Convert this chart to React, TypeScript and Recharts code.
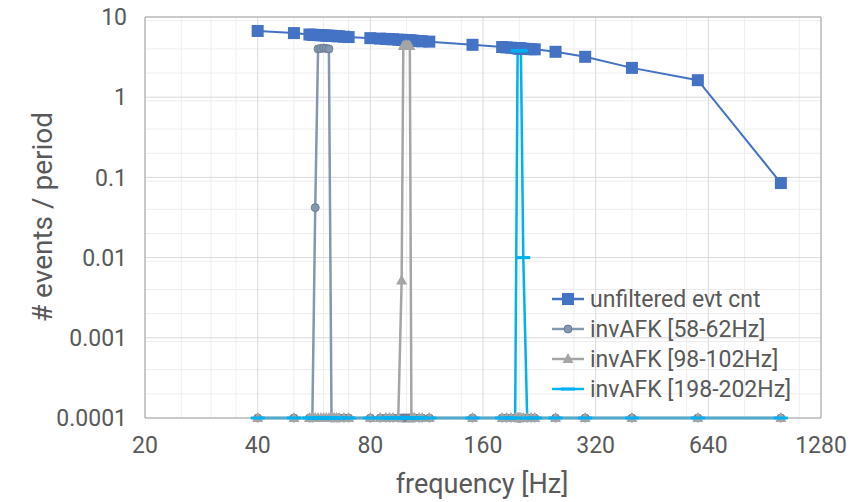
import {
  LineChart,
  Line,
  XAxis,
  YAxis,
  CartesianGrid,
  ReferenceLine,
  Label,
} from 'recharts'

// measured frequencies (Hz)
const freqHz = [
  40, 50, 55, 56, 57, 58, 59, 60, 61, 62,
  63, 64, 65, 66, 68, 70, 80, 85, 88, 90,
  92, 95, 97, 98, 99, 100, 101, 102, 103, 104,
  105, 108, 110, 115, 150, 180, 185, 190, 195, 198,
  199, 200, 201, 202, 205, 210, 215, 220, 250, 300,
  400, 600, 1000,
]

const unfilteredEvtCnt = [
  6.7, 6.3, 6.05, 6.0, 5.98, 5.95, 5.92, 5.9, 5.87, 5.85,
  5.82, 5.8, 5.77, 5.74, 5.68, 5.62, 5.45, 5.38, 5.33, 5.3,
  5.27, 5.22, 5.19, 5.17, 5.15, 5.13, 5.12, 5.1, 5.08, 5.06,
  5.04, 5.0, 4.98, 4.93, 4.5, 4.22, 4.18, 4.14, 4.1, 4.08,
  4.07, 4.06, 4.05, 4.04, 4.02, 4.0, 3.97, 3.95, 3.68, 3.19,
  2.32, 1.63, 0.085,
]

const invAfk58 = [
  0.0001, 0.0001, 0.0001, 0.0001, 0.042, 4.0, 4.05, 4.1, 4.05, 4.0,
  0.0001, 0.0001, 0.0001, 0.0001, 0.0001, 0.0001, 0.0001, 0.0001, 0.0001, 0.0001,
  0.0001, 0.0001, 0.0001, 0.0001, 0.0001, 0.0001, 0.0001, 0.0001, 0.0001, 0.0001,
  0.0001, 0.0001, 0.0001, 0.0001, 0.0001, 0.0001, 0.0001, 0.0001, 0.0001, 0.0001,
  0.0001, 0.0001, 0.0001, 0.0001, 0.0001, 0.0001, 0.0001, 0.0001, 0.0001, 0.0001,
  0.0001, 0.0001, 0.0001,
]

const invAfk98 = [
  0.0001, 0.0001, 0.0001, 0.0001, 0.0001, 0.0001, 0.0001, 0.0001, 0.0001, 0.0001,
  0.0001, 0.0001, 0.0001, 0.0001, 0.0001, 0.0001, 0.0001, 0.0001, 0.0001, 0.0001,
  0.0001, 0.0001, 0.0052, 4.35, 4.4, 4.45, 4.4, 4.35, 0.0001, 0.0001,
  0.0001, 0.0001, 0.0001, 0.0001, 0.0001, 0.0001, 0.0001, 0.0001, 0.0001, 0.0001,
  0.0001, 0.0001, 0.0001, 0.0001, 0.0001, 0.0001, 0.0001, 0.0001, 0.0001, 0.0001,
  0.0001, 0.0001, 0.0001,
]

const invAfk198 = [
  0.0001, 0.0001, 0.0001, 0.0001, 0.0001, 0.0001, 0.0001, 0.0001, 0.0001, 0.0001,
  0.0001, 0.0001, 0.0001, 0.0001, 0.0001, 0.0001, 0.0001, 0.0001, 0.0001, 0.0001,
  0.0001, 0.0001, 0.0001, 0.0001, 0.0001, 0.0001, 0.0001, 0.0001, 0.0001, 0.0001,
  0.0001, 0.0001, 0.0001, 0.0001, 0.0001, 0.0001, 0.0001, 0.0001, 0.0001, 3.8,
  3.8, 3.8, 3.8, 3.8, 0.01, 0.0001, 0.0001, 0.0001, 0.0001, 0.0001,
  0.0001, 0.0001, 0.0001,
]

const xTicks = [20, 40, 80, 160, 320, 640, 1280]
const yTicks = [0.0001, 0.001, 0.01, 0.1, 1, 10]
const xMinor = [25, 30, 35, 50, 60, 70, 100, 120, 140, 200, 240, 280, 400, 480, 560, 800, 960, 1120]
const yMinor = [
  0.0002, 0.0003, 0.0004, 0.0005, 0.0006, 0.0007, 0.0008, 0.0009,
  0.002, 0.003, 0.004, 0.005, 0.006, 0.007, 0.008, 0.009,
  0.02, 0.03, 0.04, 0.05, 0.06, 0.07, 0.08, 0.09,
  0.2, 0.3, 0.4, 0.5, 0.6, 0.7, 0.8, 0.9,
  2, 3, 4, 5, 6, 7, 8, 9,
]

const data = freqHz.map((f, i) => ({
  f,
  unf: unfilteredEvtCnt[i],
  a58: invAfk58[i],
  a98: invAfk98[i],
  a198: invAfk198[i],
}))

const FONT = 'Roboto, "Liberation Sans", sans-serif'
const TEXT = '#595959'

const squareDot = (p: any) => (
  <rect key={p.index} x={p.cx - 6} y={p.cy - 6} width={12} height={12} fill="#4472C4" />
)
const circleDot = (p: any) => (
  <circle key={p.index} cx={p.cx} cy={p.cy} r={4} fill="#8497B0" stroke="#6B7D94" strokeWidth={1} />
)
const triangleDot = (p: any) => (
  <polygon
    key={p.index}
    points={`${p.cx},${p.cy - 6} ${p.cx + 5.5},${p.cy + 4} ${p.cx - 5.5},${p.cy + 4}`}
    fill="#A5A5A5"
  />
)
const dashDot = (p: any) => (
  <rect key={p.index} x={p.cx - 7} y={p.cy - 1.5} width={14} height={3} fill="#00B0F0" />
)

const legendItems = [
  { name: 'unfiltered evt cnt', color: '#4472C4', marker: 'square' },
  { name: 'invAFK [58-62Hz]', color: '#8497B0', marker: 'circle' },
  { name: 'invAFK [98-102Hz]', color: '#A5A5A5', marker: 'triangle' },
  { name: 'invAFK [198-202Hz]', color: '#00B0F0', marker: 'dash' },
]

function LegendBox() {
  return (
    <div
      style={{
        position: 'absolute',
        left: 552,
        top: 284,
        fontFamily: FONT,
        fontSize: 23,
        color: TEXT,
        whiteSpace: 'nowrap',
      }}
    >
      {legendItems.map(item => (
        <div key={item.name} style={{ display: 'flex', alignItems: 'center', height: 30 }}>
          <svg width={32} height={20} style={{ marginRight: 6 }}>
            <line x1={0} y1={10} x2={32} y2={10} stroke={item.color} strokeWidth={2.5} />
            {item.marker === 'square' && <rect x={10} y={4} width={12} height={12} fill={item.color} />}
            {item.marker === 'circle' && <circle cx={16} cy={10} r={4} fill={item.color} stroke="#6B7D94" />}
            {item.marker === 'triangle' && <polygon points="16,4 21.5,14 10.5,14" fill={item.color} />}
            {item.marker === 'dash' && <rect x={9} y={8.5} width={14} height={3} fill={item.color} />}
          </svg>
          <span>{item.name}</span>
        </div>
      ))}
    </div>
  )
}

export default function App() {
  return (
    <div style={{ position: 'absolute', left: 0, top: 0, width: 858, height: 502 }}>
      <LineChart width={858} height={502} data={data} margin={{ top: 17, right: 37, left: 0, bottom: 0 }}>
        <CartesianGrid stroke="#EDEDED" horizontalValues={yMinor} verticalValues={xMinor} />
        <CartesianGrid stroke="#D9D9D9" horizontalValues={yTicks} verticalValues={xTicks} />
        <XAxis
          dataKey="f"
          type="number"
          scale="log"
          domain={[20, 1280]}
          ticks={xTicks}
          height={84}
          tickSize={0}
          tickMargin={19}
          stroke="#A6A6A6"
          tick={{ fill: TEXT, fontSize: 23, fontFamily: FONT }}
        >
          <Label
            content={() => (
              <text x={482} y={493} textAnchor="middle" fill={TEXT} fontSize={27} fontFamily={FONT}>
                frequency [Hz]
              </text>
            )}
          />
        </XAxis>
        <YAxis
          type="number"
          scale="log"
          domain={[0.0001, 10]}
          ticks={yTicks}
          width={145}
          tickSize={0}
          tickMargin={18}
          stroke="#A6A6A6"
          tick={{ fill: TEXT, fontSize: 23, fontFamily: FONT }}
        >
          <Label
            content={() => (
              <text
                x={52}
                y={217}
                transform="rotate(-90 52 217)"
                textAnchor="middle"
                fill={TEXT}
                fontSize={28}
                fontFamily={FONT}
              >
                # events / period
              </text>
            )}
          />
        </YAxis>
        <ReferenceLine y={10} stroke="#A6A6A6" />
        <ReferenceLine x={1280} stroke="#A6A6A6" />
        <Line dataKey="unf" stroke="#4472C4" strokeWidth={2} dot={squareDot} isAnimationActive={false} />
        <Line dataKey="a58" stroke="#8497B0" strokeWidth={2.5} dot={circleDot} isAnimationActive={false} />
        <Line dataKey="a98" stroke="#A5A5A5" strokeWidth={2.5} dot={triangleDot} isAnimationActive={false} />
        <Line dataKey="a198" stroke="#00B0F0" strokeWidth={2.5} dot={dashDot} isAnimationActive={false} />
      </LineChart>
      <LegendBox />
    </div>
  )
}
